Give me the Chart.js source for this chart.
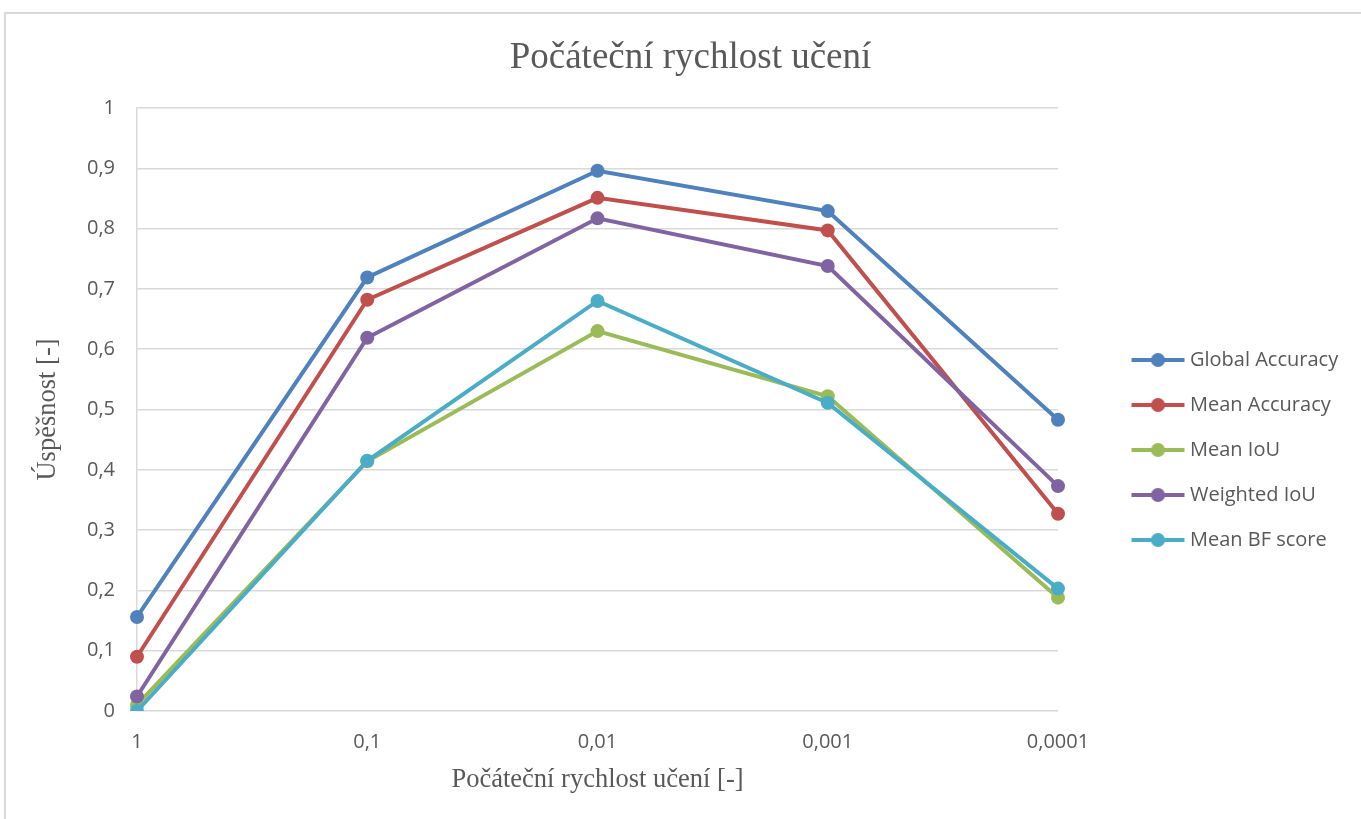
<!DOCTYPE html>
<html>
<head>
<meta charset="utf-8">
<script src="https://cdn.jsdelivr.net/npm/chart.js@4"></script>
<style>
    body { margin: 0; background: #ffffff; }
    .frame {
        position: absolute; left: 4px; top: 12px; width: 1400px; height: 900px;
        border-top: 2px solid #d9d9d9; border-left: 2px solid #d9d9d9;
    }
    .wrap { position: absolute; left: 0; top: 0; width: 1361px; height: 819px; }
</style>
</head>
<body>
<div class="frame"></div>
<div class="wrap"><canvas id="lrChart" width="1361" height="819"></canvas></div>
<script>
// data
const rates = ['1', '0,1', '0,01', '0,001', '0,0001'];
const globalAccuracy = [0.156, 0.719, 0.896, 0.829, 0.483];
const meanAccuracy = [0.090, 0.682, 0.851, 0.797, 0.327];
const meanIoU = [0.010, 0.414, 0.630, 0.522, 0.188];
const weightedIoU = [0.024, 0.619, 0.817, 0.738, 0.373];
const meanBFScore = [0.0, 0.415, 0.680, 0.511, 0.203];
const yTicks = [0, 0.1, 0.2, 0.3, 0.4, 0.5, 0.6, 0.7, 0.8, 0.9, 1];

const textColor = '#595959';
const gridColor = '#d9d9d9';
const sansFont = '"Open Sans", Lato, sans-serif';
const serifFont = '"Liberation Serif", "DejaVu Serif", serif';
const LEGEND_WIDTH = 303;

// legend marker: short line with a dot (image is centred on the legend box)
function legendMarker(color) {
    const c = document.createElement('canvas');
    c.width = 108;
    c.height = 16;
    const ctx = c.getContext('2d');
    ctx.strokeStyle = color;
    ctx.lineWidth = 4;
    ctx.beginPath();
    ctx.moveTo(54, 8);
    ctx.lineTo(107, 8);
    ctx.stroke();
    ctx.fillStyle = color;
    ctx.beginPath();
    ctx.arc(80.5, 8, 7, 0, Math.PI * 2);
    ctx.fill();
    return c;
}

function series(label, values, color, order) {
    return {
        label: label,
        data: values,
        borderColor: color,
        backgroundColor: color,
        borderWidth: 4,
        pointRadius: 7,
        pointHoverRadius: 7,
        pointBorderWidth: 0,
        tension: 0,
        order: order,
        marker: legendMarker(color)
    };
}

// keep the legend column a fixed width so the plot ends where it should
const fixedLegendWidth = {
    id: 'fixedLegendWidth',
    beforeLayout(chart) {
        const lg = chart.legend;
        if (lg && !lg._fixedFit) {
            const fit = lg.fit.bind(lg);
            lg.fit = function () { fit(); this.width = LEGEND_WIDTH; };
            lg._fixedFit = true;
        }
    }
};

const chart = new Chart(document.getElementById('lrChart'), {
    type: 'line',
    data: {
        labels: rates,
        datasets: [
            series('Global Accuracy', globalAccuracy, '#4F81BD', 4),
            series('Mean Accuracy', meanAccuracy, '#C0504D', 3),
            series('Mean IoU', meanIoU, '#9BBB59', 2),
            series('Weighted IoU', weightedIoU, '#8064A2', 1),
            series('Mean BF score', meanBFScore, '#4BACC6', 0)
        ]
    },
    plugins: [fixedLegendWidth],
    options: {
        responsive: false,
        animation: false,
        layout: { padding: { left: 20, right: 0, top: 0, bottom: 0 } },
        plugins: {
            tooltip: { enabled: false },
            title: {
                display: true,
                text: 'Počáteční rychlost učení',
                color: textColor,
                font: { family: serifFont, size: 37, weight: 'normal' },
                padding: { top: 36, bottom: 27.6 }
            },
            legend: {
                position: 'right',
                title: { display: true, text: '', padding: { top: 30, bottom: 29.4 }, font: { size: 18 } },
                labels: {
                    usePointStyle: true,
                    pointStyleWidth: 97,
                    padding: 25,
                    color: textColor,
                    font: { family: sansFont, size: 20 },
                    sort: (a, b) => a.datasetIndex - b.datasetIndex,
                    generateLabels: (c) => c.data.datasets.map((ds, i) => ({
                        text: ds.label,
                        pointStyle: ds.marker,
                        fillStyle: ds.borderColor,
                        strokeStyle: ds.borderColor,
                        lineWidth: 0,
                        fontColor: textColor,
                        hidden: false,
                        datasetIndex: i
                    }))
                }
            }
        },
        scales: {
            x: {
                offset: false,
                grid: { display: false, drawTicks: false },
                border: { display: false },
                ticks: {
                    color: textColor,
                    font: { family: sansFont, size: 20 },
                    padding: 19,
                    maxRotation: 0,
                    autoSkip: false
                },
                title: {
                    display: true,
                    text: 'Počáteční rychlost učení [-]',
                    color: textColor,
                    font: { family: serifFont, size: 26.5 },
                    padding: { top: 0, bottom: 23 }
                },
                afterFit: (scale) => { scale.height = 108; }
            },
            y: {
                min: 0,
                max: 1,
                afterBuildTicks: (scale) => { scale.ticks = yTicks.map(v => ({ value: v })); },
                grid: { color: gridColor, lineWidth: 1.5, drawTicks: false },
                border: { display: true, color: gridColor, width: 1.5 },
                ticks: {
                    color: textColor,
                    font: { family: sansFont, size: 20 },
                    padding: 22,
                    callback: (v) => String(Math.round(v * 10) / 10).replace('.', ',')
                },
                title: {
                    display: true,
                    text: 'Úspěšnost [-]',
                    color: textColor,
                    font: { family: serifFont, size: 26.5 },
                    padding: { top: 12, bottom: 0 }
                },
                afterFit: (scale) => { scale.width = 117; }
            }
        }
    }
});
</script>
</body>
</html>
